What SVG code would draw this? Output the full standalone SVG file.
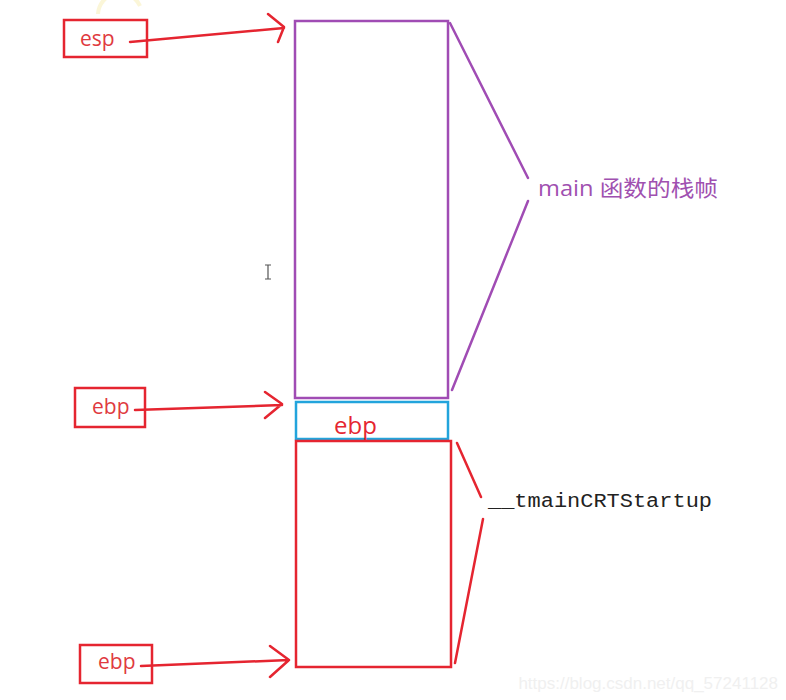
<svg xmlns="http://www.w3.org/2000/svg" width="786" height="700" viewBox="0 0 786 700">
<style>
.rb{fill:none;stroke:#e52530;stroke-width:2.5}
.ln{fill:none;stroke:#e52530;stroke-width:2.5;stroke-linecap:round;stroke-linejoin:round}
.pl{fill:none;stroke:#a04cb4;stroke-width:2.5;stroke-linecap:round}
.lbl{font-family:"Segoe UI","Open Sans","Liberation Sans",sans-serif;font-size:21px;fill:#e03a40}
</style>
<rect width="786" height="700" fill="#ffffff"/>
<path d="M98,14 A22,22 0 0 1 140,6" fill="none" stroke="#fbf6d8" stroke-width="4"/>
<g id="esp-box">
<rect class="rb" x="64" y="20" width="83" height="37"/>
<text class="lbl" x="80" y="46">esp</text>
</g>
<g id="main-frame">
<rect x="295" y="21" width="153" height="377" fill="none" stroke="#a04cb4" stroke-width="2.5"/>
</g>
<g id="main-label">
<text x="538" y="196" font-family="'Segoe UI','Open Sans','Noto Sans','Noto Sans CJK SC',sans-serif" font-size="22" fill="#a050b0" textLength="180" lengthAdjust="spacingAndGlyphs">main 函数的栈帧</text>
</g>
<g id="ebp-box-1">
<rect class="rb" x="75" y="388" width="70" height="39"/>
<text class="lbl" x="92" y="414">ebp</text>
</g>
<g id="saved-ebp">
<rect x="296" y="402" width="152" height="37" fill="none" stroke="#22a4dc" stroke-width="2.5"/>
<text x="334" y="434" font-family="'Segoe UI','Open Sans','Liberation Sans',sans-serif" font-size="24" fill="#e52530">ebp</text>
</g>
<g id="tmain-frame">
<rect class="rb" x="296" y="441" width="155" height="226"/>
</g>
<g id="tmain-label">
<text x="488" y="507" font-family="'Liberation Mono','DejaVu Sans Mono',monospace" font-size="20" fill="#222222" textLength="224" lengthAdjust="spacingAndGlyphs">__tmainCRTStartup</text>
</g>
<g id="ebp-box-2">
<rect class="rb" x="80" y="645" width="72" height="38"/>
<text class="lbl" x="98" y="669">ebp</text>
</g>
<g id="connectors">
<path class="ln" d="M130,42 L284,28 M268,14 L284,27 L278,42"/>
<path class="ln" d="M135,410 L282,405 M265,392 L282,404 L265,418"/>
<path class="ln" d="M141,666 L289,660 M270,646 L289,660 L270,677"/>
<path class="pl" d="M450,23 L528,178 M528,201 L452,390"/>
<path class="ln" d="M457,443 L481,497 M483,519 L455,663"/>
</g>
<path d="M265,265 H271 M268,265 V279 M265,279 H271" stroke="#555" stroke-width="1.2" fill="none"/>
<text x="778" y="689" text-anchor="end" font-family="'Liberation Sans',Arial,sans-serif" font-size="17" fill="#f0f0f0">https://blog.csdn.net/qq_57241128</text>
</svg>
